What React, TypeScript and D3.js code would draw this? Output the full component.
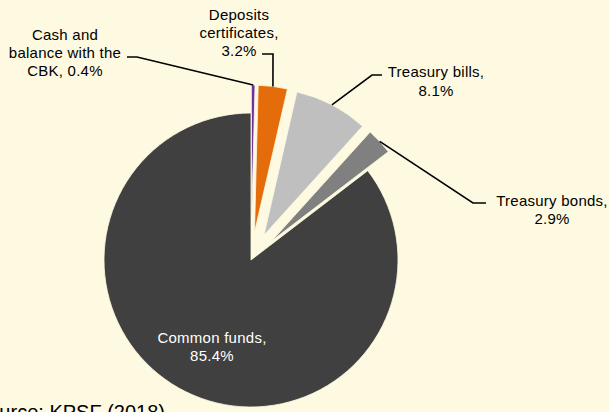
import React from "react";
import * as d3 from "d3";

const categories = [
  "Cash and balance with the CBK",
  "Deposits certificates",
  "Treasury bills",
  "Treasury bonds",
  "Common funds",
];
const shares = [0.4, 3.2, 8.1, 2.9, 85.4];
const colors = ["#7030A0", "#E46C0A", "#BFBFBF", "#808080", "#404040"];
const exploded = [true, true, true, true, false];
const labelLines = [
  ["Cash and", "balance with the", "CBK, 0.4%"],
  ["Deposits", "certificates,", "3.2%"],
  ["Treasury bills,", "8.1%"],
  ["Treasury bonds,", "2.9%"],
  ["Common funds,", "85.4%"],
];

const W = 609;
const H = 412;
const BG = "#FEFAE1";
const cx = 251;
const cy = 260;
const R = 147;
const EXPLODE = 28;

// label layout (text anchor center x, first baseline y, line height), elbow and horizontal end of leader
const labelLayout = [
  { x: 65, y: 40, lh: 18, elbow: [137, 57], end: [127, 57], color: "#000" },
  { x: 239, y: 20, lh: 18, elbow: [273, 54], end: [262, 54], color: "#000" },
  { x: 436, y: 77, lh: 18.5, elbow: [372, 75], end: [382, 75], color: "#000" },
  { x: 552, y: 206, lh: 18, elbow: [473, 203], end: [486, 203], color: "#000" },
  { x: 212, y: 343, lh: 18, elbow: null, end: null, color: "#FFFFFF" },
];

export default function App() {
  const pie = d3
    .pie<number>()
    .sort(null)
    .value((d) => d)
    .startAngle(0)
    .endAngle(2 * Math.PI);
  const arcs = pie(shares);
  const arc = d3.arc<d3.PieArcDatum<number>>().innerRadius(0).outerRadius(R);

  return (
    <svg
      width={W}
      height={H}
      style={{ position: "absolute", left: 0, top: 0 }}
      fontFamily="'Liberation Sans', Arial, sans-serif"
    >
      <rect x={0} y={0} width={W} height={H} fill={BG} />
      <g>
        {arcs.map((a, i) => {
          const mid = (a.startAngle + a.endAngle) / 2;
          const off = exploded[i] ? EXPLODE : 0;
          const dx = Math.sin(mid) * off;
          const dy = -Math.cos(mid) * off;
          return (
            <path
              key={categories[i]}
              d={arc(a) || ""}
              transform={`translate(${cx + dx},${cy + dy})`}
              fill={colors[i]}
              stroke={BG}
              strokeWidth={0.8}
            />
          );
        })}
      </g>
      <g>
        {arcs.map((a, i) => {
          const L = labelLayout[i];
          if (!L.elbow || !L.end) return null;
          const mid = (a.startAngle + a.endAngle) / 2;
          const rr = R + (exploded[i] ? EXPLODE : 0);
          const sx = cx + Math.sin(mid) * rr;
          const sy = cy - Math.cos(mid) * rr;
          return (
            <polyline
              key={"l" + i}
              points={`${sx},${sy} ${L.elbow[0]},${L.elbow[1]} ${L.end[0]},${L.end[1]}`}
              fill="none"
              stroke="#000"
              strokeWidth={1.6}
            />
          );
        })}
      </g>
      <g fontSize={15} letterSpacing={0.25}>
        {labelLines.map((lines, i) => {
          const L = labelLayout[i];
          return (
            <text key={"t" + i} textAnchor="middle" fill={L.color}>
              {lines.map((ln, j) => (
                <tspan key={j} x={L.x} y={L.y + j * L.lh}>
                  {ln}
                </tspan>
              ))}
            </text>
          );
        })}
      </g>
      <text x={165} y={419} textAnchor="end" fontSize={20} fill="#000">
        Source: KPSF (2018)
      </text>
    </svg>
  );
}
